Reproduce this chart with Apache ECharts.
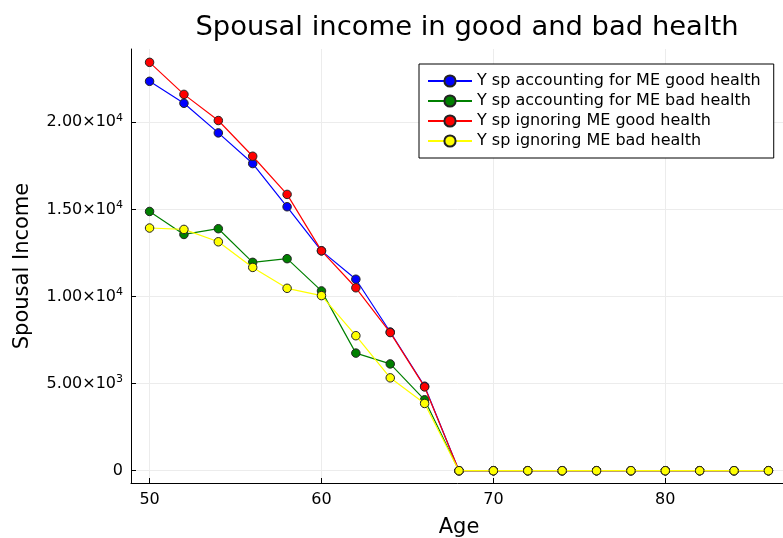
<!DOCTYPE html>
<html><head><meta charset="utf-8">
<script src="https://cdn.jsdelivr.net/npm/echarts@6/dist/echarts.min.js"></script>
<style>html,body{margin:0;padding:0;background:#fff}#c{width:783px;height:538px}</style>
</head><body><div id="c"></div>
<script>
const ages = [50,52,54,56,58,60,62,64,66,68,70,72,74,76,78,80,82,84,86];
const accGood = [22350,21090,19390,17630,15150,12620,10990,7960,4850,0,0,0,0,0,0,0,0,0,0];
const accBad  = [14880,13560,13890,11960,12170,10320,6750,6130,4070,0,0,0,0,0,0,0,0,0,0];
const ignGood = [23440,21600,20100,18050,15860,12620,10500,7930,4810,0,0,0,0,0,0,0,0,0,0];
const ignBad  = [13930,13850,13140,11670,10470,10050,7750,5330,3860,0,0,0,0,0,0,0,0,0,0];
const xTicks = [50,60,70,80];
const yTicks = [0,5000,10000,15000,20000];
const names = ['Y sp accounting for ME good health','Y sp accounting for ME bad health','Y sp ignoring ME good health','Y sp ignoring ME bad health'];
const colors = ['#0000ff','#008000','#ff0000','#ffff00'];
const sets = [accGood, accBad, ignGood, ignBad];

const font = 'DejaVu Sans';
function yFmt(v){
  if (v === 0) return '0';
  const e = Math.floor(Math.log10(v));
  const m = (v/Math.pow(10,e)).toFixed(2);
  return '{a|' + m + '×10}{s|' + e + '}';
}
const chart = echarts.init(document.getElementById('c'));
chart.setOption({
  animation:false,
  title:{text:'Spousal income in good and bad health',left:462,top:9,textAlign:'center',
    textStyle:{fontFamily:font,fontSize:27.4,fontWeight:'normal',color:'#000'}},
  grid:{left:131,right:-4,top:49,bottom:55,outerBoundsMode:'none',containLabel:false},
  legend:{orient:'vertical',left:419,top:64,itemGap:4,itemWidth:44,itemHeight:14,
    borderColor:'#000',borderWidth:1,padding:[9,13,9,8],backgroundColor:'#fff',
    textStyle:{fontFamily:font,fontSize:16,lineHeight:14,color:'#000'},
    data:names},
  xAxis:{type:'value',min:48.92,max:87.08,name:'Age',nameLocation:'middle',nameGap:34,
    nameTextStyle:{fontFamily:font,fontSize:21,color:'#000'},
    axisLine:{onZero:false,lineStyle:{color:'#000',width:1}},
    axisTick:{inside:true,length:5,customValues:xTicks,lineStyle:{color:'#000'}},
    axisLabel:{customValues:xTicks,fontFamily:font,fontSize:16,color:'#000',margin:9},
    splitLine:{show:true,lineStyle:{color:'#ececec',width:1}}},
  yAxis:{type:'value',min:-705,max:24205,name:'Spousal Income',nameLocation:'middle',nameGap:98,
    nameTextStyle:{fontFamily:font,fontSize:21,color:'#000'},
    axisLine:{show:true,onZero:false,lineStyle:{color:'#000',width:1}},
    axisTick:{show:true,inside:true,length:5,customValues:yTicks,lineStyle:{color:'#000'}},
    axisLabel:{customValues:yTicks,formatter:yFmt,margin:8,fontFamily:font,fontSize:16,color:'#000',
      rich:{a:{fontFamily:font,fontSize:16,color:'#000'},s:{fontFamily:font,fontSize:11,color:'#000',verticalAlign:'top',padding:[0,0,8,0]}}},
    splitLine:{show:true,lineStyle:{color:'#ececec',width:1}}},
  series: sets.map((d,i)=>({
    name:names[i],type:'line',data:ages.map((a,j)=>[a,d[j]]),
    symbol:'circle',symbolSize:8.5,
    lineStyle:{color:colors[i],width:1.2},
    itemStyle:{color:colors[i],borderColor:'#222',borderWidth:1},
    emphasis:{disabled:true},z:2+i
  }))
});
</script></body></html>
